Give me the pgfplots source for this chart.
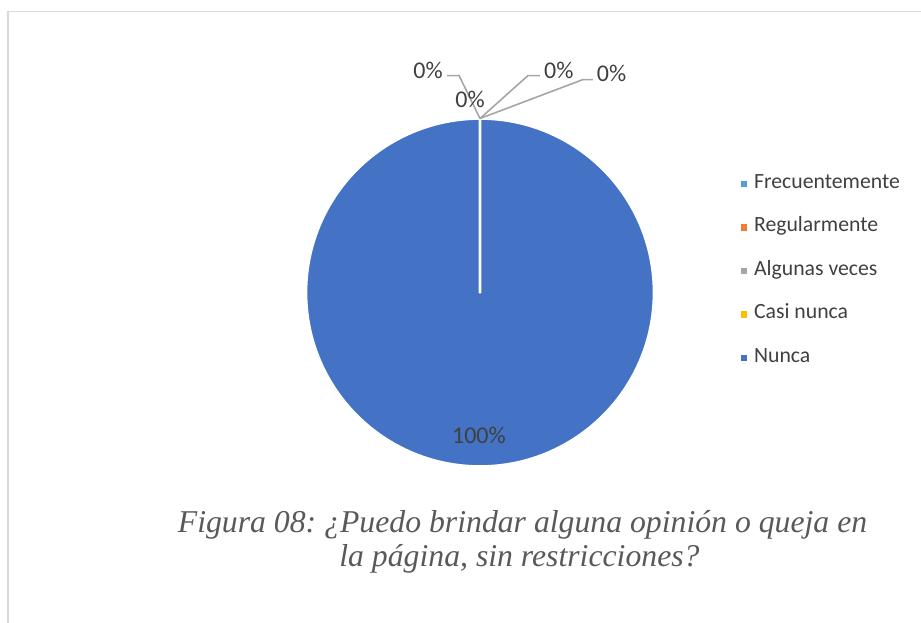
\documentclass[border=0pt]{standalone}
\usepackage{pgfplots}
\usepackage{pgfplotstable}
\pgfplotsset{compat=1.18}
\usepackage{fontspec}
\setmainfont{Liberation Serif}
\newfontfamily\carlito{Carlito}
\definecolor{cFrec}{HTML}{5B9BD5}
\definecolor{cReg}{HTML}{ED7D31}
\definecolor{cAlg}{HTML}{A5A5A5}
\definecolor{cCasi}{HTML}{FFC000}
\definecolor{cNun}{HTML}{4472C4}
\definecolor{txtgray}{HTML}{404040}
\definecolor{capgray}{HTML}{595959}
\definecolor{leadgray}{HTML}{A6A6A6}
\definecolor{bordergray}{HTML}{D9D9D9}

% values in percent, clockwise from the top
\pgfplotstableread[col sep=comma]{
label,value,color
Frecuentemente,0,cFrec
Regularmente,0,cReg
Algunas veces,0,cAlg
Casi nunca,0,cCasi
Nunca,100,cNun
}\piedata

\begin{document}
\frenchspacing
\begin{tikzpicture}
\path[use as bounding box] (0pt,0pt) rectangle (690.75pt,-467.25pt);
\draw[bordergray, line width=1pt] (6pt,-467.25pt) -- (6pt,-8.625pt) -- (690.75pt,-8.625pt);
\begin{axis}[
  at={(360pt,-219.375pt)}, anchor=origin,
  scale only axis, width=261pt, height=261pt,
  xmin=-1, xmax=1, ymin=-1, ymax=1,
  hide axis, clip=false,
  legend style={draw=none, fill=none, at={(1.237,0.565)}, anchor=west,
    font=\carlito\fontsize{16.3pt}{18pt}\selectfont, text=txtgray,
    row sep=16.6pt,
    nodes={inner sep=0pt, text height=12pt, text depth=4pt, anchor=base west},
    /tikz/every odd column/.append style={column sep=5pt}},
  legend cell align=left,
  legend image code/.code={\fill[#1] (0pt,0.7pt) rectangle (5pt,5.7pt);},
]
\pgfmathsetmacro\cum{0}
\pgfplotsinvokeforeach{0,...,4}{
  \pgfplotstablegetelem{#1}{value}\of\piedata
  \let\val\pgfplotsretval
  \pgfplotstablegetelem{#1}{color}\of\piedata
  \let\col\pgfplotsretval
  \pgfmathsetmacro\angA{90-3.6*\cum}
  \pgfmathsetmacro\angB{90-3.6*(\cum+\val)}
  \pgfmathsetmacro\cum{\cum+\val}
  \xdef\cum{\cum}
  \edef\temp{\noexpand\filldraw[fill=\col, draw=white, line width=2pt, line join=round]
    (axis cs:0,0) -- ++(\angA:130.5pt) arc[start angle=\angA, end angle=\angB, radius=130.5pt] -- cycle;}
  \temp
  \edef\temp{\noexpand\addlegendimage{fill=\col, draw=none}}
  \temp
}
\addlegendentry{Frecuentemente}
\addlegendentry{Regularmente}
\addlegendentry{Algunas veces}
\addlegendentry{Casi nunca}
\addlegendentry{Nunca}
% leader lines and data labels
\draw[leadgray, line width=1.2pt] (axis cs:0,1) -- (axis cs:-0.120,1.246) -- (axis cs:-0.189,1.246);
\draw[leadgray, line width=1.2pt] (axis cs:0,1) -- (axis cs:0.275,1.246) -- (axis cs:0.344,1.246);
\draw[leadgray, line width=1.2pt] (axis cs:0,1) -- (axis cs:0.590,1.223) -- (axis cs:0.648,1.223);
\begin{scope}[every node/.style={font=\carlito\fontsize{18pt}{20pt}\selectfont, text=txtgray, inner sep=0pt}]
\node at (axis cs:-0.298,1.275) {0\%};
\node at (axis cs:-0.057,1.109) {0\%};
\node at (axis cs:0.453,1.275) {0\%};
\node at (axis cs:0.756,1.261) {0\%};
\node at (axis cs:-0.006,-0.822) {100\%};
\end{scope}
\end{axis}
\begin{scope}[every node/.style={font=\fontsize{23.8pt}{26pt}\selectfont\itshape, text=capgray, inner sep=0pt, anchor=base}]
\node at (391.9pt,-399pt) {Figura 08: ¿Puedo brindar alguna opinión o queja en};
\node at (389.6pt,-424.5pt) {la página, sin restricciones?};
\end{scope}
\end{tikzpicture}
\end{document}
